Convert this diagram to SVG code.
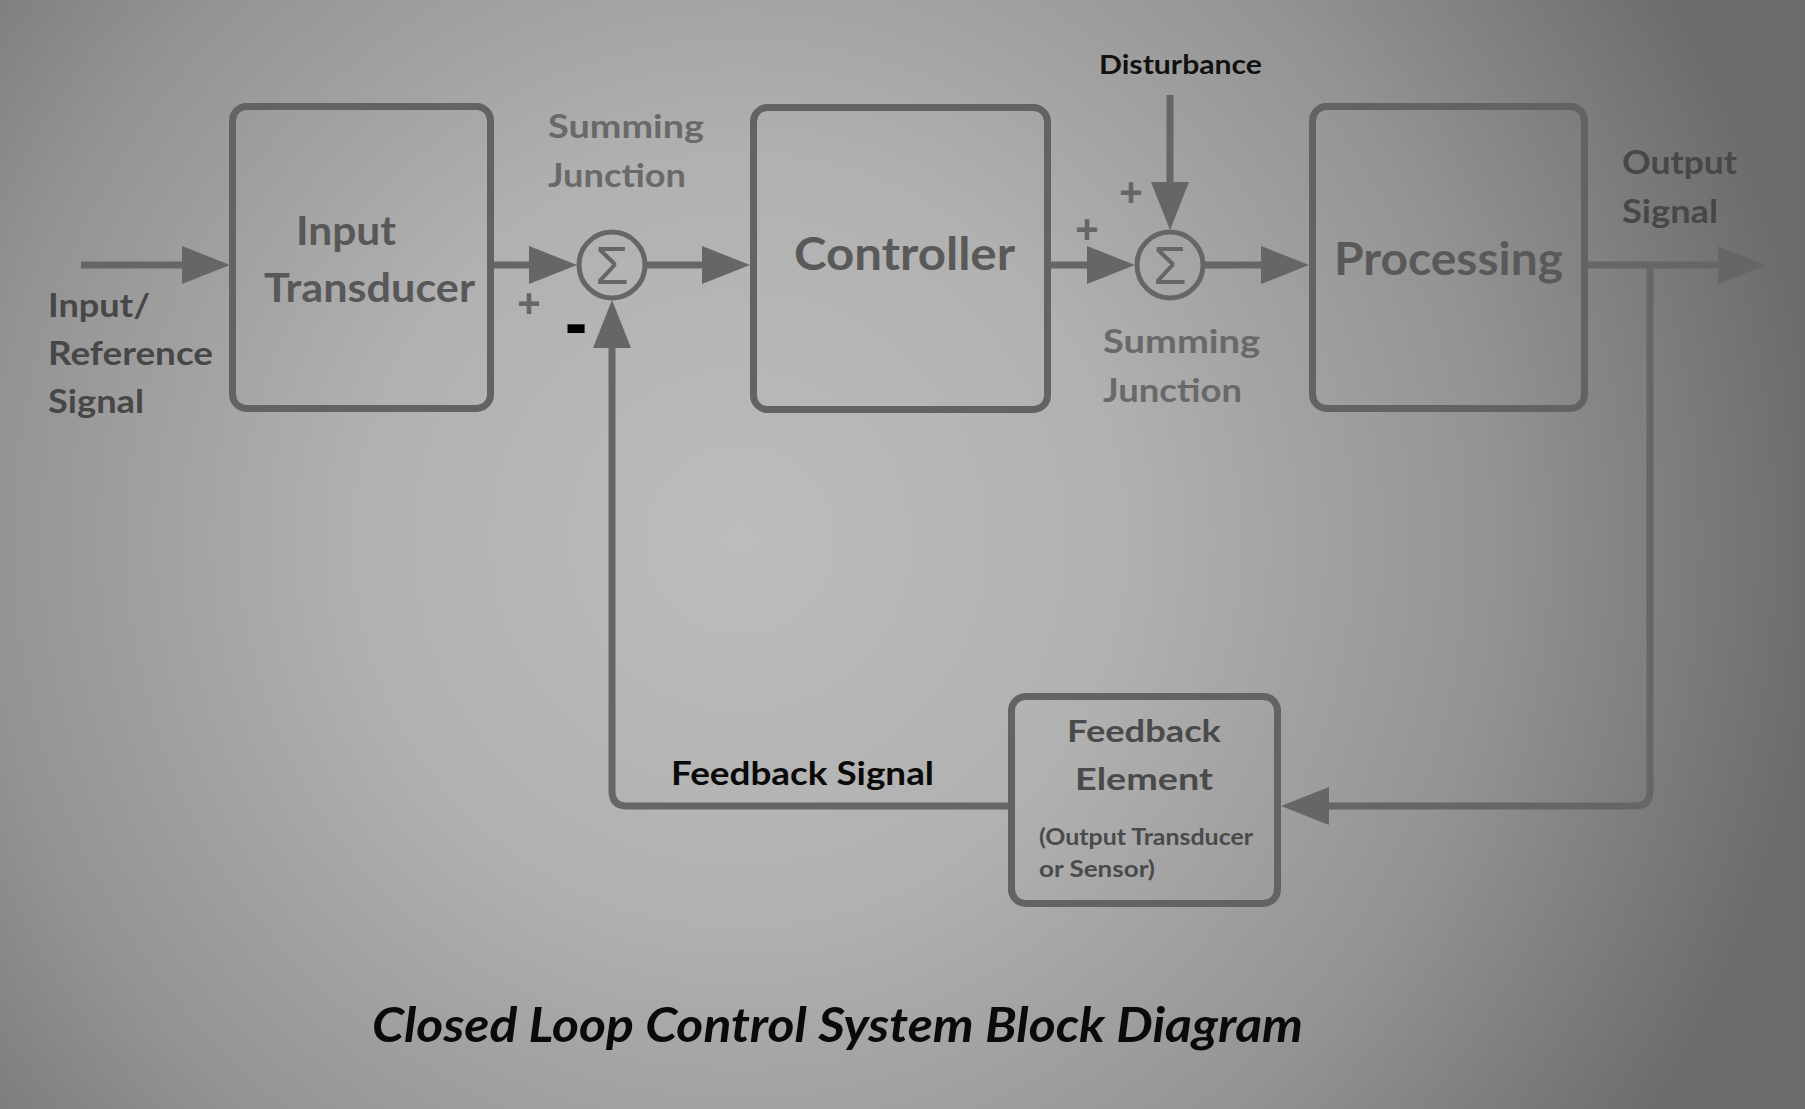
<svg xmlns="http://www.w3.org/2000/svg" width="1805" height="1109" viewBox="0 0 1805 1109">
<defs>
<radialGradient id="bg" gradientUnits="userSpaceOnUse" cx="740" cy="540" r="1080">
<stop offset="0" stop-color="#bcbcbc"/>
<stop offset="0.35" stop-color="#b1b1b1"/>
<stop offset="0.7" stop-color="#939393"/>
<stop offset="1" stop-color="#6c6c6c"/>
</radialGradient>
<marker id="arr" markerUnits="userSpaceOnUse" markerWidth="48" markerHeight="38" viewBox="0 0 48 38" refX="28" refY="19" orient="auto">
<path d="M0,0 L48,19 L0,38 Z" fill="#666666"/>
</marker>
<style>
.box{fill:none;stroke:#636363;stroke-width:7}
.sum{fill:none;stroke:#666666;stroke-width:5}
.con{fill:none;stroke:#666666;stroke-width:7;marker-end:url(#arr)}
.t{font-family:Lato,"Open Sans","Liberation Sans",sans-serif;font-weight:bold}
.sig{font-size:32px;fill:#474747}
.blk{font-size:40px;fill:#585858}
.big{font-size:46px;fill:#595959}
.sj{font-size:32px;fill:#696969}
.pm{font-family:"Liberation Sans",sans-serif;font-weight:bold;font-size:40px;fill:#666666}
.sigma{font-family:"Liberation Sans","DejaVu Sans",sans-serif;font-size:54px;fill:#666666;text-anchor:middle}
.mid{text-anchor:middle}
</style>
</defs>
<rect x="0" y="0" width="1805" height="1109" fill="url(#bg)"/>

<g id="connectors">
<path class="con" d="M81,265 H210"/>
<path class="con" d="M494,265 H557"/>
<path class="con" d="M647,265 H730"/>
<path class="con" d="M1051,265 H1115"/>
<path class="con" d="M1170,95 V210"/>
<path class="con" d="M1204,265 H1289"/>
<path class="con" d="M1588,265 H1746"/>
<path class="con" d="M1650,265 V791 Q1650,806 1635,806 H1301"/>
<path class="con" d="M1008,806 H627 Q612,806 612,791 V320"/>
</g>

<g id="input-transducer">
<rect class="box" x="232.5" y="106.5" width="258" height="302" rx="14"/>
<text class="t blk" x="296" y="245" textLength="100" lengthAdjust="spacingAndGlyphs">Input</text>
<text class="t blk" x="264" y="302" textLength="211" lengthAdjust="spacingAndGlyphs">Transducer</text>
</g>

<g id="summing-junction-1">
<circle class="sum" cx="612" cy="265" r="33"/>
<text class="sigma" x="612" y="284">Σ</text>
</g>

<g id="controller">
<rect class="box" x="753.5" y="107.5" width="294" height="302" rx="14"/>
<text class="t big" x="794" y="270" textLength="221" lengthAdjust="spacingAndGlyphs">Controller</text>
</g>

<g id="summing-junction-2">
<circle class="sum" cx="1170" cy="265" r="33"/>
<text class="sigma" x="1170" y="284">Σ</text>
</g>

<g id="processing">
<rect class="box" x="1312.5" y="106.5" width="272" height="302" rx="14"/>
<text class="t big" x="1334" y="275" textLength="229" lengthAdjust="spacingAndGlyphs">Processing</text>
</g>

<g id="feedback-element">
<rect class="box" x="1011.5" y="696.5" width="266" height="207" rx="14"/>
<text class="t" x="1067" y="742" font-size="31" fill="#4a4a4a" textLength="154" lengthAdjust="spacingAndGlyphs">Feedback</text>
<text class="t" x="1075" y="790" font-size="31" fill="#4a4a4a" textLength="138" lengthAdjust="spacingAndGlyphs">Element</text>
<text class="t" x="1039" y="845" font-size="22" fill="#4a4a4a" textLength="214" lengthAdjust="spacingAndGlyphs">(Output Transducer</text>
<text class="t" x="1039" y="877" font-size="22" fill="#4a4a4a" textLength="116" lengthAdjust="spacingAndGlyphs">or Sensor)</text>
</g>

<g id="labels">
<text class="t sig" x="48" y="317" textLength="102" lengthAdjust="spacingAndGlyphs">Input/</text>
<text class="t sig" x="48" y="365" textLength="165" lengthAdjust="spacingAndGlyphs">Reference</text>
<text class="t sig" x="48" y="413" textLength="96" lengthAdjust="spacingAndGlyphs">Signal</text>

<text class="t sj" x="548" y="138" textLength="156" lengthAdjust="spacingAndGlyphs">Summing</text>
<text class="t sj" x="548" y="187" textLength="138" lengthAdjust="spacingAndGlyphs">Junction</text>

<text class="t sj" x="1103" y="353" textLength="157" lengthAdjust="spacingAndGlyphs">Summing</text>
<text class="t sj" x="1103" y="402" textLength="139" lengthAdjust="spacingAndGlyphs">Junction</text>

<text class="t" x="1099" y="74" font-size="26" fill="#111111" textLength="163" lengthAdjust="spacingAndGlyphs">Disturbance</text>

<text class="t sig" x="1622" y="174" textLength="115" lengthAdjust="spacingAndGlyphs">Output</text>
<text class="t sig" x="1622" y="223" textLength="96" lengthAdjust="spacingAndGlyphs">Signal</text>

<text class="t" x="671" y="785" font-size="32" fill="#0a0a0a" textLength="263" lengthAdjust="spacingAndGlyphs">Feedback Signal</text>

<text class="pm mid" x="529" y="317">+</text>
<text class="pm mid" x="1087" y="243">+</text>
<text class="pm mid" x="1131" y="206">+</text>
<text class="t mid" transform="translate(576,354) scale(1.5,1.9)" font-size="44" fill="#000000">-</text>

<text class="t" x="372" y="1042" font-size="47" font-style="italic" fill="#0a0a0a" textLength="931" lengthAdjust="spacingAndGlyphs">Closed Loop Control System Block Diagram</text>
</g>
</svg>
